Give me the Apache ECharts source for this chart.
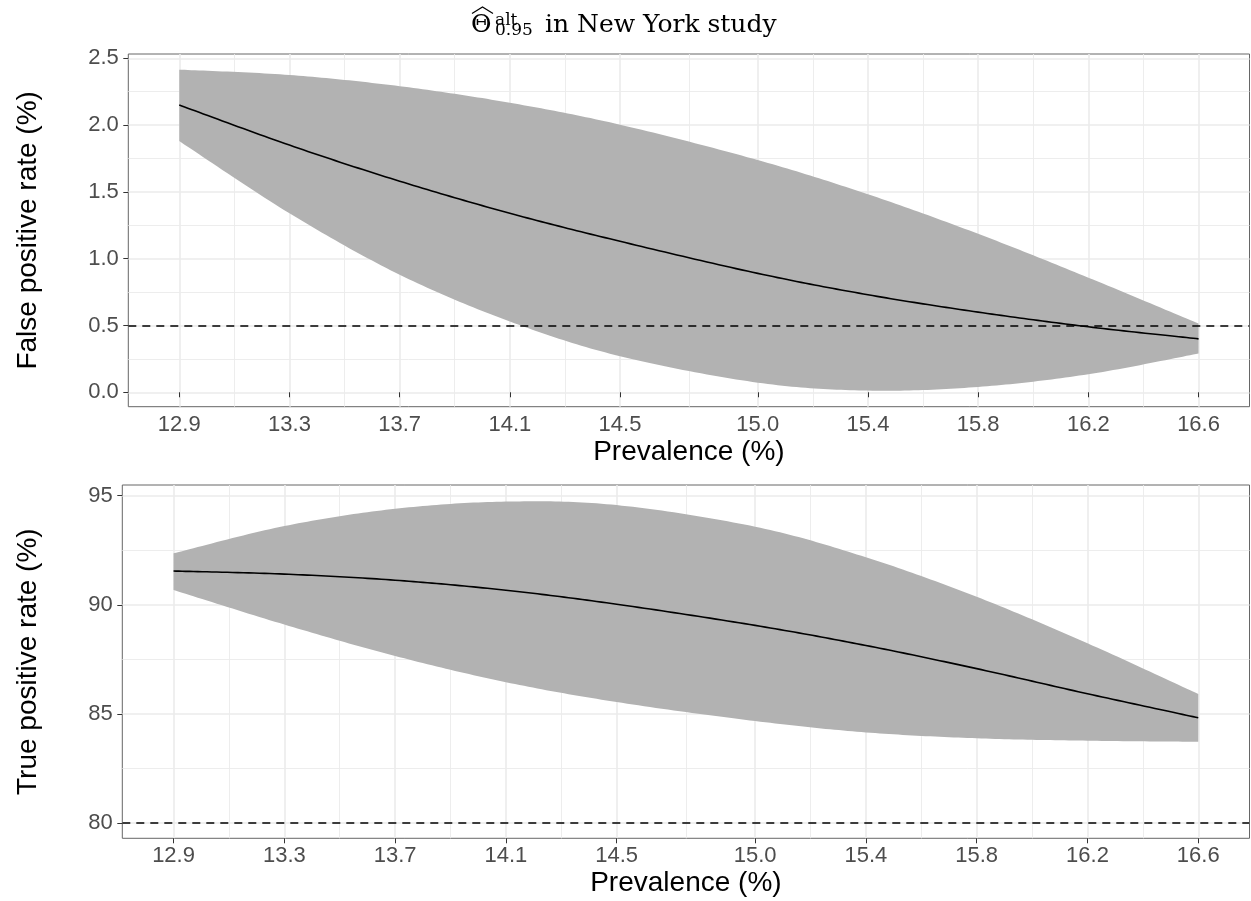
<!DOCTYPE html>
<html>
<head>
<meta charset="utf-8">
<script src="https://cdn.jsdelivr.net/npm/echarts@6/dist/echarts.min.js"></script>
<style>
html,body{margin:0;padding:0;background:#fff;}
#chart{width:1251px;height:901px;}
</style>
</head>
<body>
<div id="chart"></div>
<script>
// ---- data ----
const PREV = [12.9, 13.3, 13.7, 14.1, 14.5, 15.0, 15.4, 15.8, 16.2, 16.6];

const FPR_MID = [2.15, 1.85, 1.58, 1.34, 1.13, 0.89, 0.73, 0.60, 0.49, 0.40];
const FPR_HI  = [2.415, 2.375, 2.291, 2.167, 2.003, 1.738, 1.482, 1.186, 0.858, 0.514];
const FPR_LO  = [1.88, 1.34, 0.88, 0.53, 0.27, 0.072, 0.0125, 0.04, 0.135, 0.29];

const TPR_MID = [91.55, 91.41, 91.13, 90.67, 90.03, 89.06, 88.14, 87.08, 85.93, 84.83];
const TPR_HI  = [92.36, 93.61, 94.40, 94.73, 94.57, 93.58, 92.18, 90.37, 88.24, 85.92];
const TPR_LO  = [90.68, 89.10, 87.66, 86.46, 85.55, 84.68, 84.16, 83.89, 83.78, 83.73];

const FPR_REF = 0.5;
const TPR_REF = 80;

const X_TICKS = [12.9, 13.3, 13.7, 14.1, 14.5, 15.0, 15.4, 15.8, 16.2, 16.6];
const X_MINOR = [13.1, 13.5, 13.9, 14.3, 14.75, 15.2, 15.6, 16.0, 16.4];
const FPR_TICKS = [0, 0.5, 1.0, 1.5, 2.0, 2.5];
const FPR_MINOR = [0.25, 0.75, 1.25, 1.75, 2.25];
const TPR_TICKS = [80, 85, 90, 95];
const TPR_MINOR = [82.5, 87.5, 92.5];

const TITLE_SYMBOL = 'Θ';
const TITLE_SUP = 'alt';
const TITLE_SUB = '0.95';
const TITLE_REST = 'in New York study';
const X_NAME = 'Prevalence (%)';
const Y1_NAME = 'False positive rate (%)';
const Y2_NAME = 'True positive rate (%)';

// ---- styling helpers ----
const SANS = '"Liberation Sans", Arial, Helvetica, sans-serif';
const SERIF = '"DejaVu Serif", serif';
const GRID_COL = '#ebebeb';
const BAND_COL = '#b2b2b2';

function pairs(xs, ys) { return xs.map((x, i) => [x, ys[i]]); }

// Catmull-Rom spline through pixel points (drawing only)
function splinePoints(pts) {
  const out = [pts[0]];
  const n = pts.length;
  for (let i = 0; i < n - 1; i++) {
    const p0 = pts[Math.max(i - 1, 0)], p1 = pts[i], p2 = pts[i + 1], p3 = pts[Math.min(i + 2, n - 1)];
    const c1 = [p1[0] + (p2[0] - p0[0]) / 6, p1[1] + (p2[1] - p0[1]) / 6];
    const c2 = [p2[0] - (p3[0] - p1[0]) / 6, p2[1] - (p3[1] - p1[1]) / 6];
    const steps = 24;
    for (let s = 1; s <= steps; s++) {
      const t = s / steps, u = 1 - t;
      out.push([
        u*u*u*p1[0] + 3*u*u*t*c1[0] + 3*u*t*t*c2[0] + t*t*t*p2[0],
        u*u*u*p1[1] + 3*u*u*t*c1[1] + 3*u*t*t*c2[1] + t*t*t*p2[1]
      ]);
    }
  }
  return out;
}

function majorX(gridIndex) {
  return {
    type: 'value', gridIndex, min: 12.715, max: 16.785,
    axisLine: { show: false },
    axisTick: { show: true, length: 5, customValues: X_TICKS, lineStyle: { color: '#333', width: 1 } },
    axisLabel: { show: true, customValues: X_TICKS, margin: 7, color: '#4d4d4d', fontSize: 22, fontFamily: SANS,
                 formatter: v => Number(v).toFixed(1) },
    splitLine: { show: true, customValues: X_TICKS, lineStyle: { color: GRID_COL, width: 1.6 } },
    name: X_NAME, nameLocation: 'middle', nameGap: gridIndex === 0 ? 32 : 31,
    nameTextStyle: { color: '#000', fontSize: 28, fontFamily: SANS, lineHeight: 28 }
  };
}
function minorX(gridIndex) {
  return {
    type: 'value', gridIndex, min: 12.715, max: 16.785,
    axisLine: { show: false },
    axisTick: { show: false, customValues: X_MINOR },
    axisLabel: { show: false, customValues: X_MINOR },
    splitLine: { show: true, customValues: X_MINOR, lineStyle: { color: GRID_COL, width: 0.9 } }
  };
}
function majorY(gridIndex, min, max, ticks, dec, name, gap) {
  return {
    type: 'value', gridIndex, min, max,
    axisLine: { show: false },
    axisTick: { show: true, length: 5, customValues: ticks, lineStyle: { color: '#333', width: 1 } },
    axisLabel: { show: true, customValues: ticks, margin: 9.5, color: '#4d4d4d', fontSize: 22, fontFamily: SANS,
                 formatter: v => Number(v).toFixed(dec) },
    splitLine: { show: true, customValues: ticks, lineStyle: { color: GRID_COL, width: 1.6 } },
    name, nameLocation: 'middle', nameRotate: 90, nameGap: gap,
    nameTextStyle: { color: '#000', fontSize: 28, fontFamily: SANS, lineHeight: 28 }
  };
}
function minorY(gridIndex, min, max, ticks) {
  return {
    type: 'value', gridIndex, min, max,
    axisLine: { show: false },
    axisTick: { show: false, customValues: ticks },
    axisLabel: { show: false, customValues: ticks },
    splitLine: { show: true, customValues: ticks, lineStyle: { color: GRID_COL, width: 0.9 } }
  };
}

function panelSeries(ax, lo, hi, mid, ref) {
  return [
    { type: 'custom', coordinateSystem: 'cartesian2d', xAxisIndex: ax, yAxisIndex: ax,
      data: pairs(PREV, hi), silent: true, z: 2, clip: false,
      renderItem: function (params, api) {
        if (params.dataIndex !== 0) return null;
        const up = PREV.map((x, i) => api.coord([x, hi[i]]));
        const dn = PREV.map((x, i) => api.coord([x, lo[i]])).reverse();
        const pts = splinePoints(up).concat(splinePoints(dn));
        return { type: 'polygon', shape: { points: pts }, style: { fill: BAND_COL, stroke: null } };
      } },
    { type: 'custom', coordinateSystem: 'cartesian2d', xAxisIndex: ax, yAxisIndex: ax,
      data: pairs(PREV, mid), silent: true, z: 3, clip: false,
      renderItem: function (params, api) {
        if (params.dataIndex !== 0) return null;
        const pts = PREV.map((x, i) => api.coord([x, mid[i]]));
        return { type: 'polyline', shape: { points: splinePoints(pts) },
                 style: { stroke: '#000', lineWidth: 1.6, fill: null } };
      } },
    { type: 'line', xAxisIndex: ax, yAxisIndex: ax, data: [], silent: true, z: 4,
      markLine: { silent: true, symbol: 'none', label: { show: false },
                  lineStyle: { color: '#000', width: 1.5, type: [8, 6] },
                  data: [{ yAxis: ref }] } }
  ];
}

const chart = echarts.init(document.getElementById('chart'), null, { renderer: 'canvas' });
chart.setOption({
  backgroundColor: '#ffffff',
  animation: false,
  grid: [
    { left: 128.3, top: 54, width: 1121.2, height: 352.7, show: true, borderColor: '#666', borderWidth: 1,
      backgroundColor: 'transparent', containLabel: false, outerBoundsMode: 'none' },
    { left: 122.3, top: 485, width: 1127.2, height: 353.3, show: true, borderColor: '#666', borderWidth: 1,
      backgroundColor: 'transparent', containLabel: false, outerBoundsMode: 'none' }
  ],
  xAxis: [ majorX(0), minorX(0), majorX(1), minorX(1) ],
  yAxis: [
    majorY(0, -0.108, 2.532, FPR_TICKS, 1, Y1_NAME, 86),
    minorY(0, -0.108, 2.532, FPR_MINOR),
    majorY(1, 79.31, 95.49, TPR_TICKS, 0, Y2_NAME, 80),
    minorY(1, 79.31, 95.49, TPR_MINOR)
  ],
  series: [].concat(
    panelSeries(0, FPR_LO, FPR_HI, FPR_MID, FPR_REF),
    panelSeries(2, TPR_LO, TPR_HI, TPR_MID, TPR_REF)
  ),
  graphic: [
    { type: 'text', x: 471, y: 25.5, style: { text: TITLE_SYMBOL, font: '25px ' + SERIF, fill: '#000', align: 'left', verticalAlign: 'middle' } },
    { type: 'polyline', shape: { points: [[472, 13.5], [482.5, 7], [493, 13.5]] }, style: { stroke: '#000', lineWidth: 1.2, fill: null } },
    { type: 'text', x: 495, y: 20.5, style: { text: TITLE_SUP, font: '17px ' + SERIF, fill: '#000', align: 'left', verticalAlign: 'middle' } },
    { type: 'text', x: 495, y: 30.2, style: { text: TITLE_SUB, font: '17px ' + SERIF, fill: '#000', align: 'left', verticalAlign: 'middle' } },
    { type: 'text', x: 545, y: 25.5, style: { text: TITLE_REST, font: '25px ' + SERIF, fill: '#000', align: 'left', verticalAlign: 'middle' } }
  ]
});
</script>
</body>
</html>
